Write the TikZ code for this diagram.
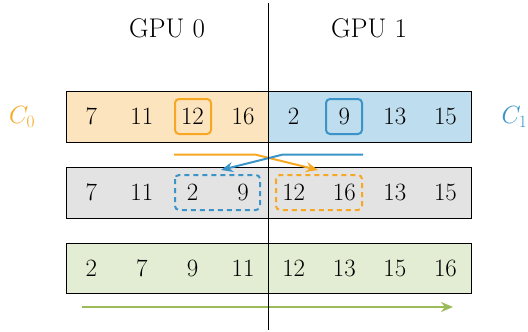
\documentclass[tikz,border=0pt]{standalone}
\usetikzlibrary{arrows.meta}
\definecolor{orfill}{HTML}{FCE4BE}
\definecolor{orline}{HTML}{F6A823}
\definecolor{blfill}{HTML}{BEDDEE}
\definecolor{blline}{HTML}{3A94C8}
\definecolor{gyfill}{HTML}{E3E3E3}
\definecolor{grfill}{HTML}{E3EDD3}
\definecolor{grline}{HTML}{9BBB59}
\tikzset{
  big/.style={font=\fontsize{24}{28}\selectfont},
  head/.style={font=\fontsize{27}{31}\selectfont},
  cell/.style={big, inner sep=0pt, minimum width=50.6pt, minimum height=50pt},
  rowbox/.style={draw=black, line width=0.9pt},
  pick/.style={draw=#1, line width=2pt, rounded corners=4pt},
  moved/.style={draw=#1, line width=2pt, dash pattern=on 5pt off 4pt, rounded corners=4pt},
  flow/.style={draw=#1, line width=2pt, -{Stealth[length=12pt,width=10pt]}},
}
\begin{document}
\begin{tikzpicture}[x=1pt,y=-1pt]
\useasboundingbox (0,0) rectangle (528,332);
% row backgrounds
\path[fill=orfill] (66,91) rectangle (268,142);
\path[fill=blfill] (268,91) rectangle (471,142);
\path[fill=gyfill] (66,167) rectangle (471,218);
\path[fill=grfill] (66,243) rectangle (471,293);
\draw[rowbox] (66,91) rectangle (471,142);
\draw[rowbox] (66,167) rectangle (471,218);
\draw[rowbox] (66,243) rectangle (471,293);
% cell entries
\foreach \v [count=\i] in {7,11,12,16,2,9,13,15}
  \node[cell] (a\i) at ({66+50.6*(\i-0.5)},116.5) {$\v$};
\foreach \v [count=\i] in {7,11,2,9,12,16,13,15}
  \node[cell] (b\i) at ({66+50.6*(\i-0.5)},192.5) {$\v$};
\foreach \v [count=\i] in {2,7,9,11,12,13,15,16}
  \node[cell] (c\i) at ({66+50.6*(\i-0.5)},268) {$\v$};
% selected pivots
\draw[pick=orline] (175,99) rectangle (211,134);
\draw[pick=blline] (326,99) rectangle (362,134);
% exchanged blocks
\draw[moved=blline] (175,175) rectangle (260,210);
\draw[moved=orline] (276,175) rectangle (362,210);
% exchange arrows
\coordinate (os) at (174,154.5);
\coordinate (ob) at (255,154.5);
\coordinate (oe) at (318,170);
\coordinate (bs) at (363,154.5);
\coordinate (bb) at (283,154.5);
\coordinate (be) at (221,170);
\draw[flow=orline] (os) -- (ob) -- (oe);
\draw[flow=blline] (bs) -- (bb) -- (be);
% sorted direction
\coordinate (gs) at (82,307);
\coordinate (ge) at (453,307);
\draw[flow=grline] (gs) -- (ge);
% GPU split
\coordinate (top) at (268,3);
\coordinate (bot) at (268,330);
\draw[line width=1pt] (top) -- (bot);
\node[head] (g0) at (167,28) {GPU 0};
\node[head] (g1) at (369,28) {GPU 1};
\node[big, text=orline] (c0) at (22,117) {$C_0$};
\node[big, text=blline, anchor=west] (c1) at (498,117) {$C_1$};
\end{tikzpicture}
\end{document}
